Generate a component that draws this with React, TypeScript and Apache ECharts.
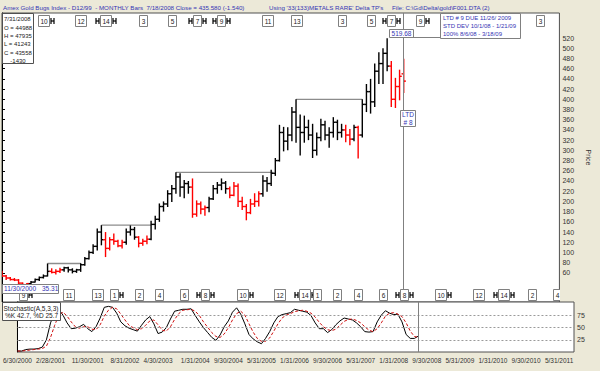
import React, { useEffect, useRef } from "react";
import * as echarts from "echarts";

const FONT = "'Liberation Sans', Arial, sans-serif";

// Monthly bars, index 0 = June 2000 ... 97 = July 2008
const opens = [58,54,50,47,46,40,37,39,42,47, 51,54,63,61,63,66,70,66,63,66, 76,88,100,112,140,125,108,125,122,113, 120,140,145,130,118,122,126,155,165,190, 195,215,225,248,228,235,228,175,195,185, 188,205,225,232,236,225,212,230,200,190, 178,195,200,215,240,235,255,280,335,318, 330,375,345,335,345,330,300,325,350,330, 335,355,335,340,330,322,345,330,390,415, 395,455,470,490,465,400,425,449.88];
const highs = [64,56,52,50,48,41,40,44,49,53, 57,78.4,69,67,70,72,72,69,68,79, 91,104,116,147,153.5,140,130,137,125,125, 147,153,150,132,127,133,162,172,196,200, 222,232,257,255,242,240,245,202,200,192, 209,232,238,245,240,229,238,235,209,195, 205,216,220,251,248,262,285,350,346,345, 385,400,370,368,360,352,335,362,358,345, 365,360,352,350,342,350,348,400,430,440, 470,492,500,519.68,475,442,458,479.35];
const lows = [52,46,45,44,38,35.31,35.5,38,41,44, 49,53,59,57,60,62,61,59,60,62, 74,86,97,104,114,91,104,115,110,108, 115,133,125,110,113,116,124,145,160,180, 189,199,215,209,206,215,168,170,175,172, 179,203,215,222,215,206,210,189,183,163, 175,189,190,209,219,230,250,278,298,300, 318,315,290,315,320,285,290,318,320,305, 325,320,325,316,310,318,284,325,375,372, 385,430,430,455,385,383,398,412.43];
const closes = [54,50,47,46,40,37,39,42,47,51, 54,63,61,63,66,70,66,63,66,76, 88,100,112,140,125,108,125,122,113,120, 140,145,130,118,122,126,155,165,190,195, 215,225,248,228,235,228,175,195,185,188, 205,225,232,236,225,212,230,200,190,178, 195,200,215,240,235,255,280,335,318,330, 375,345,335,345,330,300,325,350,330,335, 355,335,340,330,322,345,330,390,415,395, 455,470,490,465,400,425,445,435.58];
// 1 = red (down phase), 0 = black
const phase = [1,1,1,1,1,1,1,0,0,0, 0,0,1,1,1,0,0,0,0,0, 0,0,0,0,0,1,1,1,1,1, 0,0,0,1,1,1,0,0,0,0, 0,0,0,0,0,0,1,1,1,1, 0,0,0,0,0,1,1,1,1,1, 1,1,1,0,0,0,0,0,0,0, 0,0,0,0,0,0,0,0,0,0, 0,0,0,1,1,0,1,0,0,0, 0,0,0,0,1,1,1,1];

const stochK = [2,2,5,6,6,7,10,25,60,82, 88,76,60,48,49,52,57,48,42,52, 70,92,94,92,80,62,54,49,46,43, 55,66,73,58,38,41,50,68,84,86, 88,88,89,75,62,50,40,30,24,35, 52,64,82,91,78,58,36,27,21,17, 28,42,60,73,77,79,81,88,86,84, 82,75,60,48,48,40,46,56,64,70, 68,66,60,52,42,41,42,62,76,85, 80,77,78,62,36,28,28,33];
const stochD = [2,2,3,4,5,6,7,12,30,55, 76,82,74,62,52,49,52,52,47,46, 56,74,86,92,89,78,66,55,50,46, 48,55,64,66,56,45,43,52,67,79, 86,87,88,84,75,62,51,40,32,30, 37,50,66,79,84,76,58,41,28,22, 22,29,43,58,70,76,79,83,85,86, 84,80,72,61,52,46,44,47,55,63, 67,68,65,60,52,45,42,48,60,74, 80,81,78,73,60,43,32,30];

const dateTickIdx = [0,8,17,26,34,43,51,59,67,75,83,91,99,107,115,123,131];
const dateTickLabels = ["6/30/2000","2/28/2001","11/30/2001","8/31/2002","4/30/2003","1/31/2004","9/30/2004","5/31/2005","1/31/2006","9/30/2006","5/31/2007","1/31/2008","9/30/2008","5/31/2009","1/31/2010","9/30/2010","5/31/2011"];
const priceTicks = [60,80,100,120,140,160,180,200,220,240,260,280,300,320,340,360,380,400,420,440,460,480,500,520];
const stochTicks = [25,50,75];

// Delta turning point connectors
const connStart = [11,24,42,71];
const connEnd = [19,36,65.5,87];
const connLevel = [78.4,153.5,257,400];

// Delta cycle boxes
const topIdx = [10,19,25,34,41,47,53,64,71,82,89,94,101,123,130];
const topLabels = ["10","12","14","3","5","7","9","11","13","3","5","7","9","1","3"];
const topBr = ["R","","LR","","","LR","LR","","","","","LR","R","R",""];
const botIdx = [5,16,23,27,33,38,44,49,58,67,73,76,81,86,92,97,106,115,121,128,134];
const botLabels = ["9","11","13","1","2","4","6","8","10","12","14","1","2","4","6","8","10","12","14","2","4"];
const botBr = ["R","","","R","","","","LR","R","","LR","","","","","LR","R","","LR","",""];

const currentIdx = 97;
const XMAX = 134.6;
const BLUE = "#3434b4";

function txt(x: number, y: number, text: string, fill: string, align = "left", size = 6.5) {
  return {
    type: "text", x, y, z: 100,
    style: { text, fill, fontSize: size, fontFamily: FONT, align, textAlign: align, verticalAlign: "middle", textVerticalAlign: "middle" },
  };
}
function box(x: number, y: number, w: number, h: number, stroke = "#808080") {
  return { type: "rect", z: 99, shape: { x: x + 0.5, y: y + 0.5, width: w, height: h }, style: { fill: "#fff", stroke, lineWidth: 1 } };
}

function boxRender(labels: string[], brs: string[], top: boolean) {
  return (params: any, api: any) => {
    const k = params.dataIndex;
    const cs = params.coordSys;
    const xc = api.coord([api.value(0), 300])[0];
    const t = labels[k];
    const w = t.length > 1 ? 11 : 8;
    const h = 11;
    const y0 = top ? cs.y + 2 : cs.y + cs.height - 13;
    const yc = y0 + h / 2 + 0.5;
    const children: any[] = [
      { type: "rect", shape: { x: Math.round(xc - w / 2) + 0.5, y: y0 + 0.5, width: w, height: h }, style: { fill: "#fff", stroke: "#808080", lineWidth: 1 } },
      { type: "text", x: Math.round(xc - w / 2) + 0.5 + w / 2, y: yc, style: { text: t, align: "center", textAlign: "center", verticalAlign: "middle", textVerticalAlign: "middle", fontSize: 6.5, fontFamily: FONT, fill: "#222" } },
    ];
    const H = (x0: number) => [
      { type: "line", shape: { x1: x0, y1: yc - 3, x2: x0, y2: yc + 3 }, style: { stroke: "#000", lineWidth: 1.2 } },
      { type: "line", shape: { x1: x0 + 3, y1: yc - 3, x2: x0 + 3, y2: yc + 3 }, style: { stroke: "#000", lineWidth: 1.2 } },
      { type: "line", shape: { x1: x0, y1: yc, x2: x0 + 3, y2: yc }, style: { stroke: "#000", lineWidth: 1.2 } },
    ];
    const b = brs[k];
    if (b.indexOf("L") >= 0) children.push(...H(Math.round(xc - w / 2) - 4));
    if (b.indexOf("R") >= 0) children.push(...H(Math.round(xc + w / 2) + 2));
    return { type: "group", children };
  };
}

export default function App() {
  const ref = useRef<HTMLDivElement>(null);
  useEffect(() => {
    document.body.style.margin = "0";
    const chart = echarts.init(ref.current!, undefined, { renderer: "svg" });
    const ohlc = opens.map((o, i) => [i, o, highs[i], lows[i], closes[i], phase[i]]);
    const option: any = {
      animation: false,
      backgroundColor: "#ECE9D8",
      grid: [
        { left: 2, right: 26, top: 13, height: 289, show: true, backgroundColor: "#fff", borderColor: "#505050", borderWidth: 1 },
        { left: 2, right: 26, top: 302, height: 50, show: true, backgroundColor: "#fff", borderColor: "#505050", borderWidth: 1 },
      ],
      xAxis: [
        { type: "value", gridIndex: 0, min: 0, max: XMAX, show: false },
        {
          type: "value", gridIndex: 1, min: 0, max: XMAX,
          axisLine: { show: false }, axisTick: { show: false }, splitLine: { show: false },
          axisLabel: {
            customValues: dateTickIdx,
            formatter: (v: number) => { const k = dateTickIdx.indexOf(Math.round(v)); return k >= 0 ? dateTickLabels[k] : ""; },
            fontSize: 6.5, fontFamily: FONT, color: "#333", margin: 5,
          },
        },
      ],
      yAxis: [
        {
          type: "value", gridIndex: 0, position: "right", min: 3, max: 569,
          axisLine: { show: true, lineStyle: { color: "#000" } },
          axisTick: { show: true, length: 3, customValues: priceTicks, lineStyle: { color: "#000" } },
          axisLabel: { customValues: priceTicks, fontSize: 7, fontFamily: FONT, color: "#333", margin: 3 },
          splitLine: { show: false },
          name: "Price", nameLocation: "middle", nameRotate: -90, nameGap: 21,
          nameTextStyle: { fontSize: 7, fontFamily: FONT, color: "#333" },
        },
        {
          type: "value", gridIndex: 1, position: "right", min: 0, max: 103,
          axisLine: { show: true, lineStyle: { color: "#000" } },
          axisTick: { show: true, length: 3, customValues: stochTicks, lineStyle: { color: "#000" } },
          axisLabel: { customValues: stochTicks, fontSize: 7, fontFamily: FONT, color: "#333", margin: 3 },
          splitLine: { show: false },
        },
      ],
      series: [
        {
          type: "custom", name: "connectors", xAxisIndex: 0, yAxisIndex: 0, clip: true,
          data: connStart.map((s, k) => [s, connLevel[k], connEnd[k]]),
          encode: { x: [0, 2], y: 1 },
          renderItem: (params: any, api: any) => {
            const p1 = api.coord([api.value(0), api.value(1)]);
            const p2 = api.coord([api.value(2), api.value(1)]);
            return { type: "line", shape: { x1: p1[0], y1: p1[1], x2: p2[0], y2: p2[1] }, style: { stroke: "#8c8c8c", lineWidth: 1.3 } };
          },
        },
        {
          type: "custom", name: "bars", xAxisIndex: 0, yAxisIndex: 0, clip: true,
          data: ohlc,
          encode: { x: 0, y: [1, 2, 3, 4] },
          renderItem: (params: any, api: any) => {
            const i = api.value(0);
            const pO = api.coord([i, api.value(1)]);
            const pH = api.coord([i, api.value(2)]);
            const pL = api.coord([i, api.value(3)]);
            const pC = api.coord([i, api.value(4)]);
            const color = api.value(5) ? "#ff0000" : "#000000";
            const st = { stroke: color, lineWidth: 1.4 };
            return {
              type: "group",
              children: [
                { type: "line", shape: { x1: pH[0], y1: pH[1], x2: pL[0], y2: pL[1] }, style: st },
                { type: "line", shape: { x1: pO[0] - 2.2, y1: pO[1], x2: pO[0], y2: pO[1] }, style: st },
                { type: "line", shape: { x1: pC[0], y1: pC[1], x2: pC[0] + 2.2, y2: pC[1] }, style: st },
              ],
            };
          },
          markLine: {
            silent: true, symbol: ["none", "none"], label: { show: false },
            lineStyle: { color: "#808080", type: "solid", width: 1 },
            data: [{ xAxis: currentIdx }],
          },
        },
        {
          type: "custom", name: "topCycles", xAxisIndex: 0, yAxisIndex: 0, clip: true, z: 5,
          data: topIdx.map((m) => [m, 300]), encode: { x: 0, y: 1 },
          renderItem: boxRender(topLabels, topBr, true),
        },
        {
          type: "custom", name: "bottomCycles", xAxisIndex: 0, yAxisIndex: 0, clip: true, z: 5,
          data: botIdx.map((m) => [m, 300]), encode: { x: 0, y: 1 },
          renderItem: boxRender(botLabels, botBr, false),
        },
        {
          type: "line", name: "%K", xAxisIndex: 1, yAxisIndex: 1, showSymbol: false, symbol: "none",
          data: stochK.map((v, i) => [i, v]),
          lineStyle: { color: "#000", width: 1 },
          markLine: {
            silent: true, symbol: ["none", "none"], label: { show: false },
            lineStyle: { color: "#9a9a9a", type: [2, 2], width: 1 },
            data: [
              { yAxis: 25 }, { yAxis: 50 }, { yAxis: 75 },
              { xAxis: currentIdx, lineStyle: { color: "#808080", type: "solid", width: 1 } },
            ],
          },
        },
        {
          type: "line", name: "%D", xAxisIndex: 1, yAxisIndex: 1, showSymbol: false, symbol: "none",
          data: stochD.map((v, i) => [i, v]),
          lineStyle: { color: "#d01010", width: 1, type: [3, 2] },
        },
      ],
      graphic: [
        txt(3, 7, "Amex Gold Bugs Index - D12/99  - MONTHLY Bars  7/18/2008 Close = 435.580 (-1.540)", BLUE, "left", 6.2),
        txt(269, 7, "Using '33(133)METALS RARE' Delta TP's", BLUE, "left", 6.2),
        txt(392, 7, "File: C:\\Gd\\Delta\\gold\\F001.DTA (2)", BLUE, "left", 6.2),
        box(2, 13, 31, 50, "#505050"),
        txt(4, 19, "7/31/2008", "#222", "left", 6),
        txt(4, 27.5, "O = 44988", "#222", "left", 6),
        txt(4, 36, "H = 47935", "#222", "left", 6),
        txt(4, 44.3, "L = 41243", "#222", "left", 6),
        txt(4, 52.5, "C = 43558", "#222", "left", 6),
        txt(18, 60.5, "-1430", "#222", "center", 6),
        box(2, 302, 58, 18, "#505050"),
        txt(3.5, 308.5, "Stochastic(A,5,3,3)", "#222"),
        txt(5, 315.5, "%K 42.7, %D 25.7", "#222"),
        box(2, 284, 56, 9),
        txt(4, 288.7, "11/30/2000", BLUE),
        txt(42, 288.7, "35.31", BLUE),
        box(389, 29, 24, 8),
        txt(401.5, 33.5, "519.68", BLUE, "center"),
        { type: "line", z: 99, shape: { x1: 413, y1: 37.5, x2: 440, y2: 37.5 }, style: { stroke: "#808080", lineWidth: 1 } },
        box(440, 13, 80, 25),
        txt(443, 17.8, "LTD # 9 DUE 11/26/ 2009", BLUE, "left", 6),
        txt(443, 26, "STD DEV 10/1/08 - 1/21/09", BLUE, "left", 6),
        txt(443, 34.2, "100% 8/6/08 - 3/18/09", BLUE, "left", 6),
        box(400, 110, 15, 16),
        txt(408, 114.3, "LTD", BLUE, "center"),
        txt(408, 122, "# 8", BLUE, "center"),
      ],
    };
    chart.setOption(option);
    return () => chart.dispose();
  }, []);
  return <div ref={ref} style={{ width: 600, height: 371, position: "absolute", left: 0, top: 0 }} />;
}
